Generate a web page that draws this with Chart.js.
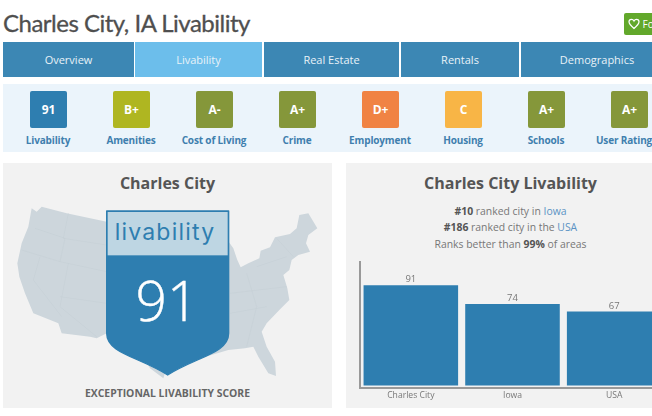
<!DOCTYPE html>
<html>
<head>
<meta charset="utf-8">
<script src="https://cdn.jsdelivr.net/npm/chart.js@4"></script>
<style>
  html, body { margin: 0; padding: 0; background: #fff; overflow: hidden; }
  body { position: relative; width: 652px; height: 416px; font-family: "Open Sans", sans-serif; color: #555; }
  .abs { position: absolute; }
  #title { left: 3px; top: 6px; font: 400 24px/34px Lato, sans-serif; letter-spacing: -0.5px; color: #4f4f4f; white-space: nowrap; -webkit-text-stroke: 0.3px #4f4f4f; }
  #fav { left: 624px; top: 13px; width: 40px; height: 22px; background: #62a82b; border-radius: 2px; color: #fff; font-size: 10px; line-height: 22px; white-space: nowrap; }
  .tab { top: 42px; height: 35px; background: #3c87b4; color: #e8f2f8; font-size: 11px; line-height: 35px; text-align: center; }
  .tab.on { background: #6cbeeb; }
  #strip { left: 3px; top: 84px; width: 649px; height: 68px; background: #ebf4fb; }
  .grade { top: 91px; width: 37px; height: 37px; border-radius: 2px; color: #fff; font-size: 12px; font-weight: 700; line-height: 37px; text-align: center; }
  .glabel { top: 132px; width: 90px; color: #3f7fae; font-size: 10px; letter-spacing: -0.15px; font-weight: 700; line-height: 16px; text-align: center; white-space: nowrap; }
  .panel { top: 163px; height: 245px; background: #f2f2f2; width: 329px; }
  .head { font-size: 16px; font-weight: 700; color: #555; text-align: center; line-height: 22px; white-space: nowrap; width: 329px; }
  .rank { left: 346px; width: 329px; font-size: 10.4px; line-height: 16px; text-align: center; color: #777; white-space: nowrap; }
  .rank b { color: #555; }
  .rank span { color: #5b93c4; }
  #score { left: 3px; top: 384px; width: 329px; text-align: center; font-size: 10.4px; font-weight: 700; color: #666; line-height: 18px; }
  #chartbox { left: 350px; top: 255px; width: 330px; height: 149px; }
</style>
</head>
<body>
<div id="title" class="abs">Charles City, IA Livability</div>
<div id="fav" class="abs"><svg width="12" height="12" viewBox="0 0 24 24" style="vertical-align:-2px;margin-left:4px"><path d="M12 21 C4 14 2 11 2 7.500 C2 4 5 2.500 7 2.500 C9.500 2.500 11 4 12 6 C13 4 14.500 2.500 17 2.500 C19 2.500 22 4 22 7.500 C22 11 20 14 12 21 Z" fill="none" stroke="#fff" stroke-width="2.500"/></svg> Fo</div>

<div id="strip" class="abs"></div>

<div class="panel abs" style="left:3px"></div>
<div class="panel abs" style="left:346px"></div>

<!-- map and shield, traced in 3x units of the left panel area -->
<svg class="abs" style="left:0;top:160px" width="340" height="256" viewBox="0 0 1020 768">
  <path fill="#cdd6dc" d="M95 145 L110 155 L125 140 L200 160 L320 185 L500 200 L686 245 L700 265 L712 300 L722 322 L745 310 L778 295 L782 272 L810 262 L825 232 L870 222 L890 205 L898 165 L925 160 L952 205 L925 225 L918 250 L930 275 L895 285 L875 300 L868 330 L850 345 L862 385 L868 420 L838 450 L800 490 L785 515 L800 560 L825 605 L828 648 L805 640 L775 590 L760 560 L735 565 L685 570 L500 625 L490 655 L450 625 L430 590 L380 560 L320 520 L290 535 L270 530 L185 520 L175 490 L100 460 L75 400 L58 350 L52 310 L65 250 L85 200 Z"/>
  <g fill="none" stroke="#c4ced5" stroke-width="1.500">
    <path d="M105 205 L195 235 L180 305 L65 270"/>
    <path d="M120 290 L100 360 L185 470"/>
    <path d="M205 160 L190 235 L320 255"/>
    <path d="M180 305 L320 335"/>
    <path d="M205 310 L180 440 L290 530"/>
    <path d="M180 410 L320 430"/>
    <path d="M690 400 L860 380"/>
    <path d="M690 460 L800 440"/>
    <path d="M740 340 L770 440 L740 560"/>
    <path d="M770 320 L860 290"/>
    <path d="M830 235 L880 290"/>
  </g>
  <path fill="#2e7eb0" stroke="#2e7eb0" stroke-width="4" stroke-linejoin="round" d="M320 153 L686 153 L686 520 C686 580 590 590 503 645 C416 590 320 580 320 520 Z"/>
  <rect x="323" y="156" width="360" height="130" fill="#bed6e3"/>
</svg>
<div class="abs" style="left:107px;top:210px;width:116px;text-align:center;font:400 23px/44px Inter, 'Open Sans', sans-serif;letter-spacing:1.200px;color:#2e7eb0">livability</div>
<div class="abs" style="left:109px;top:260px;width:116px;text-align:center;font:300 55px/80px 'Open Sans', sans-serif;color:#fff;-webkit-text-stroke:0.4px #fff">91</div>

<div class="head abs" style="left:3px;top:172px">Charles City</div>
<div class="abs" id="score">EXCEPTIONAL LIVABILITY SCORE</div>

<div class="head abs" style="left:346px;top:172px">Charles City Livability</div>
<div class="rank abs" style="top:203px"><b>#10</b> ranked city in <span>Iowa</span></div>
<div class="rank abs" style="top:219px"><b>#186</b> ranked city in the <span>USA</span></div>
<div class="rank abs" style="top:236px">Ranks better than <b>99%</b> of areas</div>

<div id="chartbox" class="abs"><canvas id="livability-bars"></canvas></div>

<script>
const tabNames = ["Overview", "Livability", "Real Estate", "Rentals", "Demographics"];
const tabLeft = [3, 135, 264, 401, 521];
const tabWidth = [131, 127, 135, 118, 152];

const gradeNames = ["Livability", "Amenities", "Cost of Living", "Crime", "Employment", "Housing", "Schools", "User Rating"];
const gradeValues = ["91", "B+", "A-", "A+", "D+", "C", "A+", "A+"];
const gradeColors = ["#2e7eb0", "#afb621", "#85973a", "#85973a", "#f08344", "#f8b546", "#85973a", "#85973a"];
const gradeLeft = [30, 113, 196, 279, 362, 445, 528, 611];
const gradeLabelCenter = [48, 131, 214, 297, 380, 463, 546, 624];

const places = ["Charles City", "Iowa", "USA"];
const scores = [91, 74, 67];

// tabs and grade boxes
tabNames.forEach(function (name, i) {
  const d = document.createElement("div");
  d.className = "tab abs" + (i === 1 ? " on" : "");
  d.style.left = tabLeft[i] + "px";
  d.style.width = tabWidth[i] + "px";
  d.textContent = name;
  document.body.appendChild(d);
});

gradeNames.forEach(function (name, i) {
  const box = document.createElement("div");
  box.className = "grade abs";
  box.style.left = gradeLeft[i] + "px";
  box.style.background = gradeColors[i];
  box.textContent = gradeValues[i];
  document.body.appendChild(box);

  const lab = document.createElement("div");
  lab.className = "glabel abs";
  lab.style.left = gradeLabelCenter[i] - 45 + "px";
  lab.textContent = name;
  document.body.appendChild(lab);
});

// number above each bar
const barValues = {
  id: "barValues",
  afterDatasetsDraw(chart) {
    const ctx = chart.ctx;
    const meta = chart.getDatasetMeta(0);
    ctx.save();
    ctx.font = "9.5px 'Open Sans'";
    ctx.fillStyle = "#777";
    ctx.textAlign = "center";
    ctx.textBaseline = "bottom";
    meta.data.forEach(function (bar, i) {
      ctx.fillText(scores[i], bar.x, bar.y - 1);
    });
    ctx.restore();
  },
};

new Chart(document.getElementById("livability-bars").getContext("2d"), {
  type: "bar",
  data: {
    labels: places,
    datasets: [
      {
        data: scores,
        backgroundColor: "#2e7eb0",
        barPercentage: 0.93,
        categoryPercentage: 1,
      },
    ],
  },
  options: {
    responsive: true,
    maintainAspectRatio: false,
    animation: false,
    layout: { padding: { left: 10, top: 7, right: 15, bottom: 0 } },
    plugins: { legend: { display: false }, tooltip: { enabled: false } },
    scales: {
      x: {
        grid: { display: false, drawTicks: false },
        border: { color: "#999", width: 2 },
        ticks: { color: "#777", font: { family: "Open Sans", size: 8.6 }, padding: 3, maxRotation: 0 },
      },
      y: {
        min: -2,
        max: 112,
        grid: { display: false, drawTicks: false },
        border: { color: "#999", width: 2 },
        ticks: { display: false },
      },
    },
  },
  plugins: [barValues],
});
</script>
</body>
</html>
